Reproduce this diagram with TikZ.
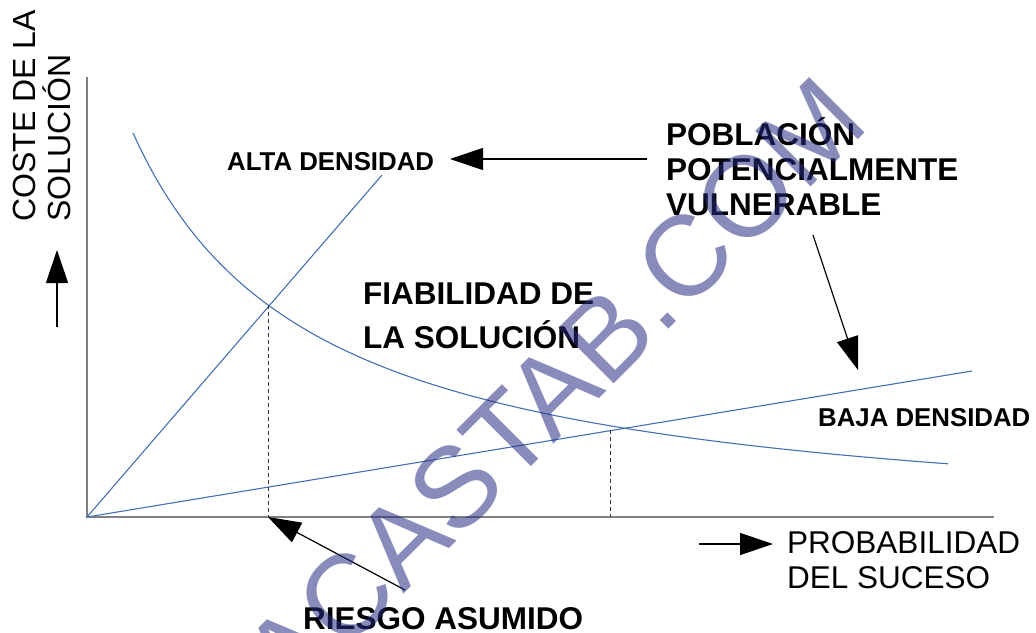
\documentclass[tikz,border=0pt]{standalone}
\usepackage{fontspec}
\setmainfont{Liberation Sans}
\usetikzlibrary{arrows.meta}
\definecolor{axisgray}{RGB}{128,128,128}
\definecolor{lineblue}{RGB}{70,110,180}
\definecolor{wmcolor}{RGB}{40,45,130}
\begin{document}
\begin{tikzpicture}[x=1pt,y=-1pt,
  axisline/.style={draw=axisgray, line width=2pt},
  bluecurve/.style={draw=lineblue, line width=1.1pt},
  guide/.style={draw=black!80, line width=1pt, dash pattern=on 4pt off 3pt},
  pointer/.style={draw=black, line width=1.2pt, -{Triangle[length=33pt,width=22pt]}},
  lbl/.style={inner sep=0pt, anchor=base west, align=left},
  boldbig/.style={font={\fontsize{31.5}{35}\selectfont\bfseries}},
  boldsmall/.style={font={\fontsize{25.8}{30}\selectfont\bfseries}},
  plain/.style={font={\fontsize{31.5}{35}\selectfont}},
  watermark/.style={inner sep=0pt, anchor=base west, rotate=45, text=wmcolor, text opacity=0.55, font={\fontsize{114}{114}\selectfont}}
]
\useasboundingbox (0,0) rectangle (1036,632);
\clip (0,0) rectangle (1036,632);

% axes
\coordinate (origin) at (87,517);
\coordinate (ytop) at (87,77);
\coordinate (xend) at (994,517);
\draw[axisline] (ytop) -- (origin) -- (xend);

% blue lines
\coordinate (altaend) at (382,175);
\coordinate (bajaend) at (972,371);
\draw[bluecurve] (origin) -- (altaend);
\draw[bluecurve] (origin) -- (bajaend);
\draw[bluecurve] plot[domain=133:948, samples=120, smooth] (\x, {516 - (741.38/((\x+50)/100) - 22.1)});

% dashed guides
\coordinate (p1) at (268,305);
\coordinate (p1b) at (268,517);
\coordinate (p2) at (610,430);
\coordinate (p2b) at (610,517);
\draw[guide] (p1) -- (p1b);
\draw[guide] (p2) -- (p2b);

% labels (multi-line nodes: anchor at the baseline of the last line)
\node[lbl, boldsmall] (alta) at (227,170) {ALTA DENSIDAD};
\node[lbl, boldbig] (pob) at (666,215) {POBLACIÓN\\POTENCIALMENTE\\VULNERABLE};
\node[lbl, font={\fontsize{31.5}{44}\selectfont\bfseries}] (fiab) at (363,348) {FIABILIDAD DE\\LA SOLUCIÓN};
\node[lbl, boldsmall] (baja) at (818,426) {BAJA DENSIDAD};
\node[lbl, boldbig] (riesgo) at (303,629) {RIESGO ASUMIDO};
\node[lbl, plain] (prob) at (787,588) {PROBABILIDAD\\DEL SUCESO};
\node[lbl, font={\fontsize{32}{35}\selectfont}, rotate=90] (coste) at (70,222) {COSTE DE LA\\SOLUCIÓN};

% arrows
\coordinate (yarrowS) at (57,327);
\coordinate (yarrowE) at (57,250);
\draw[pointer] (yarrowS) -- (yarrowE);
\coordinate (xarrowS) at (699,544);
\coordinate (xarrowE) at (773,544);
\draw[pointer] (xarrowS) -- (xarrowE);
\coordinate (pobS) at (647,159);
\coordinate (altaT) at (450,159);
\draw[pointer] (pobS) -- (altaT);
\coordinate (pobS2) at (813,235);
\coordinate (bajaT) at (858,370);
\draw[pointer] (pobS2) -- (bajaT);
\coordinate (riesgoS) at (405,590);
\coordinate (riesgoT) at (268,517);
\draw[pointer] (riesgoS) -- (riesgoT);

% watermark
\node[watermark] (wm) at (291,707) {ACASTAB.COM};
\end{tikzpicture}
\end{document}
